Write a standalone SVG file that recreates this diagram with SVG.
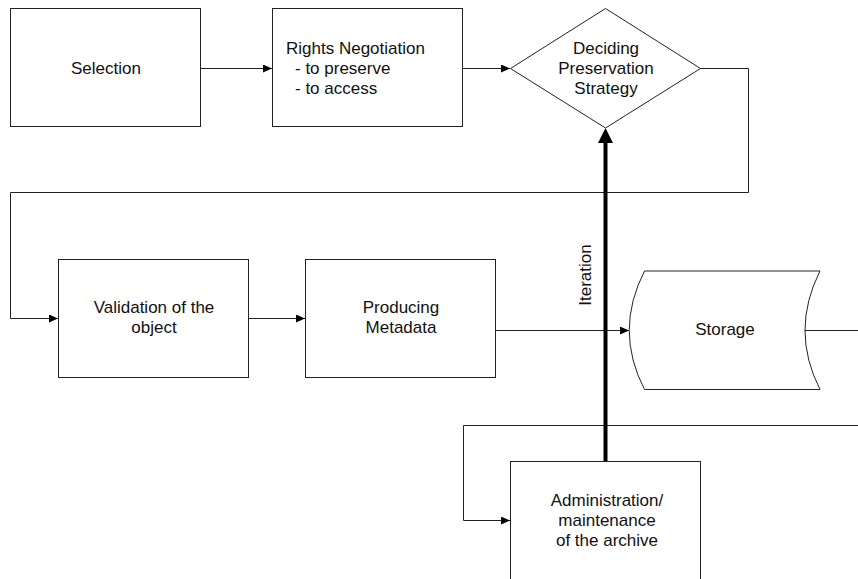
<svg xmlns="http://www.w3.org/2000/svg" width="858" height="579" viewBox="0 0 858 579">
<style>
.box{fill:#fff;stroke:#222;stroke-width:1}
.t{font-family:"Liberation Sans",Arial,sans-serif;font-size:17px;fill:#111}
.c{fill:none;stroke:#222;stroke-width:1}
.thick{fill:none;stroke:#000;stroke-width:4}
</style>
<defs>
<marker id="a" markerUnits="userSpaceOnUse" markerWidth="9" markerHeight="8" viewBox="0 0 9 8" refX="9" refY="4" orient="auto">
<path d="M0,0 L9,4 L0,8 z" fill="#000"/>
</marker>
<marker id="big" markerUnits="userSpaceOnUse" markerWidth="15" markerHeight="15" viewBox="0 0 15 15" refX="8" refY="7.5" orient="auto">
<path d="M0,0 L15,7.5 L0,15 z" fill="#000"/>
</marker>
</defs>
<rect width="858" height="579" fill="#fff"/>
<g id="connectors">
<path class="c" d="M201,68.5 H272" marker-end="url(#a)"/>
<path class="c" d="M463,68.5 H510" marker-end="url(#a)"/>
<path class="c" d="M700,68.5 H748.5 V192.5 H10.5 V318.5 H58" marker-end="url(#a)"/>
<path class="c" d="M248,318.5 H305" marker-end="url(#a)"/>
<path class="c" d="M496,330.5 H629" marker-end="url(#a)"/>
<path class="c" d="M805,330.5 H858"/>
<path class="c" d="M858,425.5 H463.5 V520.5 H510" marker-end="url(#a)"/>
<path class="thick" d="M605.5,461 V135" marker-end="url(#big)"/>
<text class="t" transform="translate(591,275) rotate(-90)" text-anchor="middle">Iteration</text>
</g>
<g id="selection">
<rect class="box" x="10.5" y="8.5" width="190" height="118"/>
<text class="t" x="106" y="74" text-anchor="middle">Selection</text>
</g>
<g id="rights">
<rect class="box" x="272.5" y="8.5" width="190" height="118"/>
<text class="t" x="286" y="54">Rights Negotiation</text>
<text class="t" x="295" y="74">- to preserve</text>
<text class="t" x="295" y="94">- to access</text>
</g>
<g id="deciding">
<polygon class="box" points="510.5,68.5 605.5,8.5 700.5,68.5 605.5,128"/>
<text class="t" x="606" y="54" text-anchor="middle">Deciding</text>
<text class="t" x="606" y="74" text-anchor="middle">Preservation</text>
<text class="t" x="606" y="94" text-anchor="middle">Strategy</text>
</g>
<g id="validation">
<rect class="box" x="58.5" y="259.5" width="190" height="118"/>
<text class="t" x="154" y="313" text-anchor="middle">Validation of the</text>
<text class="t" x="154" y="333" text-anchor="middle">object</text>
</g>
<g id="producing">
<rect class="box" x="305.5" y="259.5" width="190" height="118"/>
<text class="t" x="401" y="313" text-anchor="middle">Producing</text>
<text class="t" x="401" y="333" text-anchor="middle">Metadata</text>
</g>
<g id="storage">
<path class="box" d="M644.5,271 L820,271 Q790,330.5 820,389.5 L644.5,389.5 Q614,330.5 644.5,271 Z"/>
<text class="t" x="725" y="335" text-anchor="middle">Storage</text>
</g>
<g id="administration">
<rect class="box" x="510.5" y="461.5" width="190" height="140"/>
<text class="t" x="607" y="506" text-anchor="middle">Administration/</text>
<text class="t" x="607" y="526" text-anchor="middle">maintenance</text>
<text class="t" x="607" y="546" text-anchor="middle">of the archive</text>
</g>
</svg>
